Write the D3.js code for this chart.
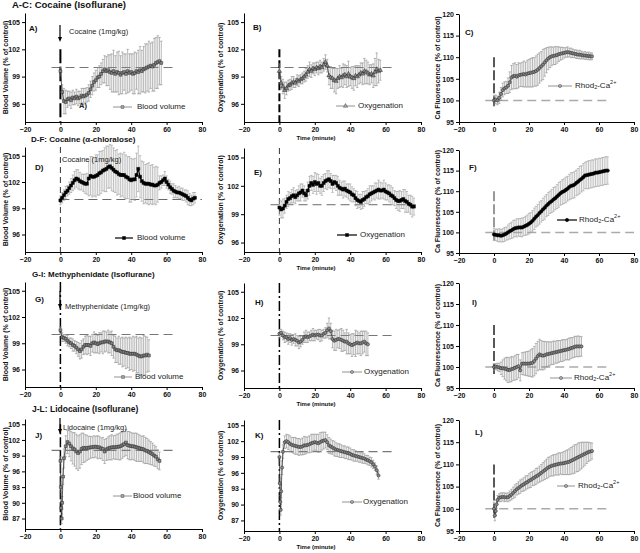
<!DOCTYPE html>
<html><head><meta charset="utf-8">
<script src="https://cdn.jsdelivr.net/npm/d3@7"></script>
<style>body{margin:0;background:#fff}svg{display:block}text{font-family:"Liberation Sans",Arial,sans-serif}</style>
</head><body><svg id="c" width="640" height="553"></svg>
<script>
// ---------------- DATA ----------------
const xTicks = [-20, 0, 20, 40, 60, 80];
const yTicksIso = [96, 99, 102, 105];
const yTicksLido = [87, 90, 93, 96, 99, 102, 105];
const yTicksCa = [95, 100, 105, 110, 115, 120];
const rowTitles = ["A-C: Cocaine (Isoflurane)", "D-F: Cocaine (\u03b1-chloralose)", "G-I: Methyphenidate (Isoflurane)", "J-L: Lidocaine (Isoflurane)"];
const yLabels = ["Blood Volume (% of  control)", "Oxygenation (% of  control)", "Ca Fluorescence (% of  control)"];
const xLabel = "Time (minute)";
const seriesNames = ["Blood volume", "Oxygenation", "Rhod2-Ca2+"];
const drugNotes = ["Cocaine (1mg/kg)", "Cocaine (1mg/kg)", "Methyphenidate (1mg/kg)", "Lidocaine (1mg/kg)"];

const t57 = d3.range(0, 58), t56 = d3.range(0, 57), t76 = d3.range(0, 77), t65 = d3.range(0, 66), t50 = d3.range(0, 51);
const tJK = [0, 0.25, 0.5, 0.75, 1, 1.5, 2].concat(d3.range(3, 57));
const tL = [0, 0.5, 1, 1.5, 2].concat(d3.range(3, 57));

const mA = [99.6,97.3,96.3,96.2,96.5,96.6,96.4,96.7,96.6,96.8,96.6,96.7,96.9,96.8,96.9,97.0,97.2,97.6,98.0,98.4,98.6,98.9,99.0,99.3,99.6,99.8,99.6,99.7,99.5,99.4,99.6,99.3,99.5,99.4,99.2,99.4,99.5,99.3,99.6,99.4,99.5,99.3,99.4,99.6,99.5,99.7,99.6,99.8,99.9,100.0,100.1,100.2,100.1,100.3,100.5,100.6,100.7,100.5];
const eA = [0.5,0.8,1.4,1.3,0.9,0.8,0.9,0.8,0.7,0.8,0.8,0.7,0.8,0.9,0.8,0.8,0.9,0.9,1.0,1.0,1.1,1.1,1.2,1.2,1.3,1.5,1.6,1.7,1.9,2.1,2.3,2.0,2.2,2.4,2.1,2.3,2.0,2.2,2.4,2.1,2.0,2.2,2.3,2.0,2.4,2.6,2.3,2.5,2.7,2.6,2.8,2.5,2.7,2.9,2.8,2.9,2.6,2.4];
const mB = [99.6,98.3,97.9,97.5,97.7,98.0,98.1,98.3,98.4,98.3,98.6,98.5,98.7,98.8,99.0,99.2,99.5,99.8,99.6,99.9,99.8,100.0,99.9,100.1,100.0,100.3,100.6,100.2,99.1,98.9,98.8,98.6,98.5,98.8,99.0,98.9,99.1,99.2,99.0,99.3,99.0,98.9,98.8,99.1,99.0,99.2,99.4,99.3,99.6,99.5,99.4,99.2,99.3,99.1,99.5,99.8,99.6,99.7];
const eB = [0.8,0.7,0.8,0.9,0.7,0.6,0.6,0.7,0.6,0.5,0.6,0.6,0.5,0.6,0.6,0.7,0.7,0.8,0.7,0.6,0.7,0.6,0.7,0.7,0.6,0.7,0.8,0.7,1.0,1.2,1.1,1.3,1.4,1.1,1.2,1.0,1.3,1.1,1.2,1.4,1.0,1.2,1.3,1.1,1.2,1.0,1.1,1.2,1.4,1.3,1.2,1.1,1.0,1.3,1.5,1.8,1.3,1.1];
const mC = [100.0,100.2,100.0,100.6,101.5,102.4,102.8,103.0,103.4,104.2,105.3,105.6,105.7,105.5,105.8,105.9,106.0,106.1,106.0,106.2,106.3,106.4,106.5,106.6,106.8,107.1,107.5,107.9,108.3,108.8,109.3,109.7,110.0,110.2,110.3,110.4,110.5,110.7,110.8,110.9,111.0,111.1,111.2,111.1,111.0,110.9,110.8,110.7,110.6,110.6,110.5,110.4,110.4,110.3,110.3,110.2,110.2];
const eC = [1.2,1.0,1.0,1.3,1.5,1.6,1.5,1.4,1.8,2.4,2.8,2.9,3.0,2.8,2.9,2.7,2.8,3.0,2.9,3.1,3.2,3.3,3.4,3.3,3.5,3.6,3.5,3.4,3.5,3.2,2.9,2.6,2.4,2.2,2.0,2.1,1.9,1.7,1.5,1.4,1.2,1.1,1.2,1.0,1.1,1.0,0.9,1.0,0.9,1.0,0.9,0.8,0.9,0.8,0.9,0.8,0.8];
const mD = [99.9,100.2,100.5,100.8,101.0,101.3,101.6,101.9,102.2,102.4,102.3,102.1,102.0,101.9,101.8,101.8,102.4,102.7,102.6,102.6,102.7,102.8,103.0,103.1,103.3,103.4,103.5,103.7,103.8,103.6,103.4,103.2,103.1,102.9,102.8,102.8,102.8,102.6,102.5,102.3,102.2,102.3,102.3,102.8,103.5,102.6,102.1,101.9,101.8,101.8,101.8,101.7,101.7,101.6,101.6,101.7,101.9,102.0,102.2,102.4,102.0,101.7,101.4,101.2,101.0,100.9,100.8,100.8,100.7,100.6,100.5,100.4,100.2,100.0,99.9,100.1,100.2];
const eD = [0.5,0.6,0.6,0.7,0.6,0.7,0.8,0.9,1.0,1.0,1.1,1.0,0.9,1.0,1.1,1.2,2.0,2.2,2.3,2.2,2.4,2.3,2.5,2.4,2.3,2.5,2.6,2.4,2.5,2.6,2.5,2.4,2.6,2.3,2.5,2.4,2.6,2.5,2.4,2.6,2.5,2.3,2.4,2.5,2.6,2.4,2.3,2.4,2.2,2.3,2.4,2.2,2.3,2.1,2.2,2.0,0.8,0.7,0.6,0.8,0.7,0.6,0.7,0.6,0.8,0.7,0.6,0.7,0.6,0.7,0.6,0.7,0.8,0.7,0.6,0.7,0.6];
const mE = [99.7,99.5,99.6,99.9,100.3,100.6,100.7,100.9,101.0,100.8,101.0,101.2,101.3,101.5,101.2,101.0,101.5,102.0,102.3,102.1,102.4,102.2,102.3,102.0,102.0,102.3,102.5,102.6,102.7,102.5,102.2,102.4,102.3,102.0,101.8,101.7,101.6,101.7,101.5,101.4,101.3,101.1,101.0,100.7,100.5,100.4,100.3,100.5,100.6,100.8,100.9,101.1,101.2,101.3,101.4,101.5,101.6,101.5,101.5,101.6,101.4,101.3,101.2,101.0,100.9,100.7,100.5,100.4,100.4,100.5,100.6,100.4,100.3,100.1,100.0,99.8,99.8];
const eE = [0.8,0.9,1.0,0.8,0.7,0.8,0.6,0.7,0.8,0.7,0.6,0.8,0.9,0.7,0.8,0.6,0.9,1.0,0.8,0.9,1.0,1.1,0.9,0.8,1.0,0.9,0.8,1.0,0.9,0.8,0.9,0.7,0.8,1.0,0.8,0.7,0.9,0.8,0.7,0.8,0.9,0.8,0.7,0.8,0.9,0.7,0.8,0.9,0.8,0.7,0.8,0.9,0.8,0.7,0.9,0.8,1.0,0.9,0.8,1.0,0.9,0.8,0.9,1.0,0.9,0.8,0.9,1.0,1.1,0.9,1.0,1.2,1.1,0.9,1.0,1.1,0.9];
const mF = [99.5,99.4,99.3,99.3,99.2,99.3,99.5,99.7,100.0,100.3,100.5,100.8,101.0,101.1,101.2,101.2,101.2,101.4,101.6,101.8,102.1,102.4,102.8,103.3,103.8,104.2,104.7,105.1,105.6,106.0,106.5,106.9,107.3,107.6,108.0,108.3,108.7,109.1,109.5,109.8,110.0,110.3,110.6,111.0,111.3,111.4,111.6,112.0,112.3,112.7,113.0,113.4,113.8,113.9,114.0,114.1,114.2,114.3,114.5,114.5,114.6,114.7,114.8,114.9,115.0,115.0];
const eF = [1.5,1.4,1.5,1.6,1.5,1.6,1.7,1.6,1.8,1.9,2.0,2.1,2.0,2.2,2.1,2.2,2.3,2.2,2.3,2.4,2.5,2.4,2.5,2.6,2.5,2.6,2.7,2.6,2.7,2.8,2.7,2.8,2.7,2.8,2.9,2.8,2.9,3.0,2.9,3.0,3.0,3.1,3.0,3.1,3.2,3.1,3.2,3.1,3.2,3.3,3.2,3.3,3.2,3.3,3.4,3.3,3.4,3.3,3.4,3.3,3.4,3.3,3.4,3.3,3.4,3.3];
const mG = [100.5,99.7,99.6,99.5,99.3,99.1,99.0,98.8,98.7,98.5,98.3,98.1,98.3,98.6,98.8,98.8,98.8,98.7,99.0,99.1,99.0,98.9,99.0,99.1,99.1,99.2,99.2,99.2,99.1,99.0,98.6,98.3,98.2,98.2,98.1,98.0,98.0,97.9,97.9,97.8,97.8,97.8,97.8,97.7,97.6,97.5,97.5,97.6,97.6,97.7,97.6];
const eG = [0.4,0.5,0.4,0.5,0.6,0.5,0.6,0.7,0.6,0.7,0.8,0.9,1.0,0.9,1.0,1.1,1.0,1.1,1.0,1.2,1.1,1.0,1.2,1.1,1.3,1.2,1.1,1.3,1.2,1.4,1.3,1.5,1.4,1.6,1.5,1.7,1.6,1.8,1.7,1.9,1.8,2.0,1.9,2.1,2.0,2.2,2.1,2.3,2.2,2.0,1.8];
const mH = [100.2,100.3,100.0,99.8,99.8,99.6,99.7,99.5,99.6,99.5,99.4,99.2,99.3,99.5,99.8,99.9,99.8,99.9,100.0,100.1,100.0,100.1,100.1,100.0,100.0,100.2,100.3,100.6,100.8,100.5,99.6,99.4,99.5,99.6,99.6,99.5,99.4,99.3,99.3,99.1,99.0,98.9,99.0,99.1,99.2,99.1,99.1,99.2,99.3,99.1,99.0];
const eH = [0.5,0.4,0.5,0.6,0.5,0.6,0.5,0.6,0.5,0.7,0.6,0.7,0.6,0.5,0.6,0.7,0.6,0.5,0.6,0.7,0.6,0.5,0.6,0.7,0.6,0.5,0.6,0.8,1.2,0.9,1.0,1.1,1.2,1.0,1.1,1.3,1.2,1.0,1.4,1.2,1.1,1.3,1.2,1.5,1.3,1.2,1.4,1.3,1.2,1.4,1.3];
const mI = [100.0,100.1,100.0,99.9,99.7,99.7,99.6,99.5,99.3,99.3,99.5,99.6,99.8,100.0,100.2,99.2,100.8,100.8,100.8,100.8,100.8,100.9,101.0,101.4,102.0,102.6,103.0,102.8,102.7,102.8,103.0,103.1,103.2,103.3,103.4,103.5,103.6,103.7,103.8,103.9,104.0,104.1,104.2,104.3,104.5,104.6,104.8,104.9,104.9,104.9,104.9];
const eI = [0.8,0.7,0.9,1.0,1.5,2.0,2.5,2.8,3.0,2.9,3.0,2.8,2.9,3.0,2.8,2.5,2.6,2.7,2.8,2.9,3.0,3.2,3.4,3.5,3.6,3.5,3.6,3.5,3.4,3.3,3.0,2.9,2.8,2.7,2.8,2.6,2.7,2.6,2.5,2.6,2.5,2.4,2.5,2.6,2.5,2.4,2.5,2.4,2.5,2.4,2.3];
const mJ = [98.0,93.0,89.0,87.0,90.0,95.0,98.5,100.8,101.6,101.3,100.8,100.4,100.2,99.8,99.5,99.8,100.3,100.5,100.4,100.5,100.5,100.6,100.6,100.7,100.7,100.6,100.6,100.4,100.3,99.8,100.2,100.4,100.5,100.6,100.6,100.6,100.7,100.7,100.8,101.0,101.2,101.5,101.0,100.9,100.8,100.8,100.7,100.6,100.5,100.4,100.3,100.2,100.0,99.9,99.7,99.5,99.3,99.0,98.8,98.3,98.0];
const eJ = [0.8,1.0,1.2,1.0,1.2,1.5,1.8,2.0,2.2,2.5,2.8,3.0,3.2,3.3,3.3,3.2,3.0,2.8,2.6,2.4,2.2,2.1,2.0,2.1,2.0,2.2,2.1,2.0,2.2,2.3,2.1,2.2,2.3,2.4,2.2,2.3,2.4,2.5,2.6,2.5,2.4,2.5,2.6,2.7,2.6,2.5,2.6,2.7,2.6,2.5,2.4,2.6,2.5,2.4,2.3,2.2,2.1,2.0,1.9,1.8,1.7];
const mK = [99.0,94.0,90.5,89.0,92.5,97.0,100.0,101.8,102.0,101.8,101.5,101.3,101.2,101.1,101.0,100.9,100.9,101.0,101.2,101.2,101.3,101.4,101.6,101.7,101.8,101.7,101.6,101.8,102.0,102.1,102.2,101.8,101.2,101.0,100.8,100.6,100.4,100.3,100.2,100.1,100.0,99.9,99.8,99.7,99.6,99.4,99.3,99.2,99.1,99.0,98.9,98.8,98.7,98.5,98.4,98.2,98.0,97.6,97.2,96.5,95.5];
const eK = [0.8,1.0,1.2,1.0,1.2,1.3,1.3,1.2,1.3,1.4,1.5,1.4,1.5,1.6,1.5,1.6,1.5,1.6,1.7,1.6,1.5,1.6,1.7,1.6,1.5,1.6,1.7,1.8,1.7,1.6,1.5,1.4,1.5,1.4,1.3,1.4,1.3,1.2,1.3,1.2,1.1,1.2,1.1,1.2,1.1,1.0,1.1,1.0,0.9,1.0,0.9,1.0,0.9,0.8,0.9,0.8,0.9,0.8,0.7,0.8,0.7];
const mL = [100.0,98.5,99.5,101.0,102.0,102.5,102.6,102.7,102.6,102.6,102.6,102.9,103.2,103.6,104.0,104.4,104.7,105.0,105.3,105.5,105.8,106.0,106.3,106.5,106.8,107.0,107.3,107.5,107.8,108.1,108.4,108.7,109.0,109.3,109.5,109.7,109.8,109.9,110.0,110.1,110.2,110.2,110.3,110.4,110.5,110.6,110.8,111.0,111.2,111.4,111.6,111.8,112.0,112.2,112.4,112.6,112.8,112.9,113.0];
const eL = [1.5,1.2,1.0,0.9,1.0,0.9,1.0,0.9,1.0,0.9,1.0,1.1,1.2,1.3,1.4,1.3,1.4,1.5,1.4,1.5,1.6,1.5,1.6,1.7,1.6,1.7,1.8,1.7,1.8,1.9,2.0,2.1,2.2,2.3,2.2,2.3,2.4,2.3,2.4,2.5,2.4,2.5,2.6,2.7,2.8,2.9,3.0,3.1,3.2,3.1,3.2,3.1,3.0,2.8,2.6,2.4,2.2,2.0,1.8];

// ---------------- LAYOUT ----------------
const svg = d3.select('#c');
const cols = [{x0:25, x1:202, lab:6}, {x0:244, x1:421, lab:221}, {x0:459, x1:634, lab:438}];
const sq = d3.symbolSquare, ci = d3.symbolCircle, tr = d3.symbolTriangle;

const panels = [
 {id:'A', col:0, row:0, yT:13, yB:122, dom:[94,106], ticks:yTicksIso, t:t57, m:mA, e:eA, sym:sq, dark:false, letter:[29,29], leg:[113,132,137,107], s:0, href:[-5,65], hs:0, vl:[102,94,'#000',2,'14,4']},
 {id:'B', col:1, row:0, yT:13, yB:122, dom:[94,106], ticks:yTicksIso, t:t57, m:mB, e:eB, sym:tr, dark:false, letter:[253,28], leg:[336,355,358,106], s:1, href:[-5,65], hs:0, vl:[102,94,'#000',2,'8,3']},
 {id:'C', col:2, row:0, yT:14, yB:122, dom:[95,120], ticks:yTicksCa, t:t56, m:mC, e:eC, sym:ci, dark:false, letter:[465,33], leg:[548,572,575,86], s:2, href:[-5,65], hs:1, vl:[110,98,'#222',1.5,'10,3']},
 {id:'D', col:0, row:1, yT:147, yB:252, dom:[94,106], ticks:yTicksIso, t:t76, m:mD, e:eD, sym:sq, dark:true, letter:[35,168], leg:[115,133,137,238], s:0, href:[0,80], hs:2, vl:[106,94,'#000',0.8,'6,4']},
 {id:'E', col:1, row:1, yT:148, yB:252, dom:[95,106], ticks:yTicksIso, t:t76, m:mE, e:eE, sym:sq, dark:true, letter:[254,173], leg:[337,357,360,235], s:1, href:[-5,77], hs:2, vl:[106,95,'#000',0.8,'6,4']},
 {id:'F', col:2, row:1, yT:150, yB:253, dom:[95,120], ticks:yTicksCa, t:t65, m:mF, e:eF, sym:ci, dark:true, letter:[469,168], leg:[557,577,579,220], s:2, href:[-5,80], hs:1, vl:[110,98,'#999',2,'10,3']},
 {id:'G', col:0, row:2, yT:282, yB:387, dom:[94,106], ticks:yTicksIso, t:t50, m:mG, e:eG, sym:sq, dark:false, letter:[35,300], leg:[114,132,135,377], s:0, href:[-5,65], hs:0, vl:[106,94,'#000',1.5,'10,3,2,3']},
 {id:'H', col:1, row:2, yT:283, yB:388, dom:[94,106], ticks:yTicksIso, t:t50, m:mH, e:eH, sym:ci, dark:false, letter:[255,303], leg:[342,362,364,372], s:1, href:[-5,65], hs:0, vl:[106,94,'#000',1.5,'10,3,2,3']},
 {id:'I', col:2, row:2, yT:283, yB:388, dom:[95,120], ticks:yTicksCa, t:t50, m:mI, e:eI, sym:ci, dark:false, letter:[472,303], leg:[550,572,574,378], s:2, href:[-5,65], hs:1, vl:[110,98,'#222',1.5,'10,3']},
 {id:'J', col:0, row:3, yT:419, yB:529, dom:[85,106], ticks:yTicksLido, t:tJK, m:mJ, e:eJ, sym:sq, dark:false, letter:[35,436], leg:[113,132,133,496], s:0, href:[-5,65], hs:0, vl:[105,85,'#000',1.5,'10,3']},
 {id:'K', col:1, row:3, yT:420, yB:531, dom:[85,106], ticks:yTicksLido, t:tJK, m:mK, e:eK, sym:ci, dark:false, letter:[255,436], leg:[342,362,363,502], s:1, href:[-5,65], hs:0, vl:[106,85,'#000',1.5,'10,3,2,3']},
 {id:'L', col:2, row:3, yT:420, yB:531, dom:[95,120], ticks:yTicksCa, t:tL, m:mL, e:eL, sym:ci, dark:false, letter:[475,433], leg:[557,575,578,486], s:2, href:[-5,65], hs:1, vl:[110,98,'#222',1.5,'10,3']}
];
const hStyles = [{c:'#777', w:1.2}, {c:'#aaa', w:1.5}, {c:'#444', w:0.8}];

function styleAxis(g){
  g.selectAll('path').attr('stroke','#000').attr('stroke-width',1);
  g.selectAll('line').attr('stroke','#000');
  g.selectAll('text').attr('font-size','7px').attr('font-weight','bold').attr('fill','#111').attr('font-family','"Liberation Sans",Arial,sans-serif');
}

function legendLabel(sel, s){
  if (s < 2) { sel.text(seriesNames[s]); return; }
  sel.append('tspan').text('Rhod');
  sel.append('tspan').attr('font-size','5.5px').attr('dy','2').text('2');
  sel.append('tspan').attr('dy','-2').text('-Ca');
  sel.append('tspan').attr('font-size','5.5px').attr('dy','-3').text('2+');
}

panels.forEach(p => {
  const c = cols[p.col];
  const x = d3.scaleLinear().domain([-20, 80]).range([c.x0, c.x1]);
  const y = d3.scaleLinear().domain(p.dom).range([p.yB, p.yT]);
  const g = svg.append('g');

  const hs = hStyles[p.hs];
  g.append('line').attr('x1', x(p.href[0])).attr('x2', x(p.href[1])).attr('y1', y(100)).attr('y2', y(100))
    .attr('stroke', hs.c).attr('stroke-width', hs.w).attr('stroke-dasharray', '9,5');
  g.append('line').attr('x1', x(0)).attr('x2', x(0)).attr('y1', y(p.vl[0])).attr('y2', y(p.vl[1]))
    .attr('stroke', p.vl[2]).attr('stroke-width', p.vl[3]).attr('stroke-dasharray', p.vl[4]);

  const pts = p.t.map((t, i) => ({t, m: p.m[i], e: p.e[i]}));
  const ebc = p.dark ? '#9a9a9a' : '#8a8a8a';
  const eb = g.append('g').attr('stroke', ebc).attr('stroke-width', 0.6);
  pts.forEach(d => {
    const xx = x(d.t), y1 = y(d.m - d.e), y2 = y(d.m + d.e);
    eb.append('line').attr('x1', xx).attr('x2', xx).attr('y1', y1).attr('y2', y2);
    eb.append('line').attr('x1', xx - 1.2).attr('x2', xx + 1.2).attr('y1', y1).attr('y2', y1);
    eb.append('line').attr('x1', xx - 1.2).attr('x2', xx + 1.2).attr('y1', y2).attr('y2', y2);
  });
  g.append('path').datum(pts).attr('fill', 'none').attr('stroke', p.dark ? '#000' : '#333').attr('stroke-width', p.dark ? 1.2 : 0.8)
    .attr('d', d3.line().x(d => x(d.t)).y(d => y(d.m)));
  const sym = d3.symbol().type(p.sym).size(p.dark ? 9 : 8);
  g.append('g').selectAll('path').data(pts).join('path')
    .attr('transform', d => `translate(${x(d.t)},${y(d.m)})`).attr('d', sym)
    .attr('fill', p.dark ? '#000' : '#888').attr('stroke', p.dark ? '#000' : '#222').attr('stroke-width', 0.5);

  g.append('g').attr('transform', `translate(0,${p.yB})`)
    .call(d3.axisBottom(x).tickValues(xTicks).tickSize(3).tickSizeOuter(0).tickPadding(2)).call(styleAxis);
  g.append('g').attr('transform', `translate(${c.x0},0)`)
    .call(d3.axisLeft(y).tickValues(p.ticks).tickSize(3).tickSizeOuter(0).tickPadding(2)).call(styleAxis);

  g.append('text').attr('transform', `translate(${c.lab},${(p.yT + p.yB) / 2}) rotate(-90)`)
    .attr('text-anchor', 'middle').attr('dominant-baseline', 'middle').attr('font-size', '7px').attr('font-weight', 'bold').attr('fill', '#111')
    .text(yLabels[p.col]);
  g.append('text').attr('x', p.letter[0]).attr('y', p.letter[1]).attr('dominant-baseline', 'middle')
    .attr('font-size', '8px').attr('font-weight', 'bold').attr('fill', '#111').text(p.id + ')');
  const L = p.leg;
  g.append('line').attr('x1', L[0]).attr('x2', L[1]).attr('y1', L[3]).attr('y2', L[3]).attr('stroke', p.dark ? '#000' : '#777').attr('stroke-width', p.dark ? 1.2 : 0.8);
  g.append('path').attr('transform', `translate(${(L[0] + L[1]) / 2},${L[3]})`).attr('d', sym)
    .attr('fill', p.dark ? '#000' : '#aaa').attr('stroke', p.dark ? '#000' : '#444').attr('stroke-width', 0.5);
  const lt = g.append('text').attr('x', L[2]).attr('y', L[3]).attr('dominant-baseline', 'middle').attr('font-size', '8px').attr('fill', '#222');
  legendLabel(lt, p.s);
  if (p.col === 1) {
    g.append('text').attr('x', 316).attr('y', p.yB + 16).attr('text-anchor', 'middle').attr('dominant-baseline', 'middle')
      .attr('font-size', '6px').attr('font-weight', 'bold').attr('fill', '#111').text(xLabel);
  }
});

const titleCfg = [[12, 5, 9.5], [31, 140, 8], [32, 275, 8], [32, 410, 8.5]];
rowTitles.forEach((tt, i) => {
  svg.append('text').attr('x', titleCfg[i][0]).attr('y', titleCfg[i][1]).attr('dominant-baseline', 'middle')
    .attr('font-size', titleCfg[i][2] + 'px').attr('font-weight', 'bold').attr('fill', '#111').text(tt);
});

function arrow(xx, y1, y2){
  svg.append('line').attr('x1', xx).attr('x2', xx).attr('y1', y1).attr('y2', y2 - 4).attr('stroke', '#000').attr('stroke-width', 1.2);
  svg.append('path').attr('d', `M${xx - 2},${y2 - 5}L${xx + 2},${y2 - 5}L${xx},${y2}Z`).attr('fill', '#000');
}
const noteCfg = [[69, 32, 60, 25, 42], [62, 160, null], [65, 307, 60, 291, 309], [63, 428, 60, 418, 434]];
drugNotes.forEach((n, i) => {
  const cfg = noteCfg[i];
  svg.append('text').attr('x', cfg[0]).attr('y', cfg[1]).attr('dominant-baseline', 'middle').attr('font-size', '7.5px').attr('fill', '#222').text(n);
  if (cfg[2] !== null) arrow(cfg[2], cfg[3], cfg[4]);
});
svg.append('text').attr('x', 79).attr('y', 106).attr('dominant-baseline', 'middle').attr('font-size', '7.5px').attr('font-weight', 'bold').attr('fill', '#222').text('A)');
</script></body></html>
